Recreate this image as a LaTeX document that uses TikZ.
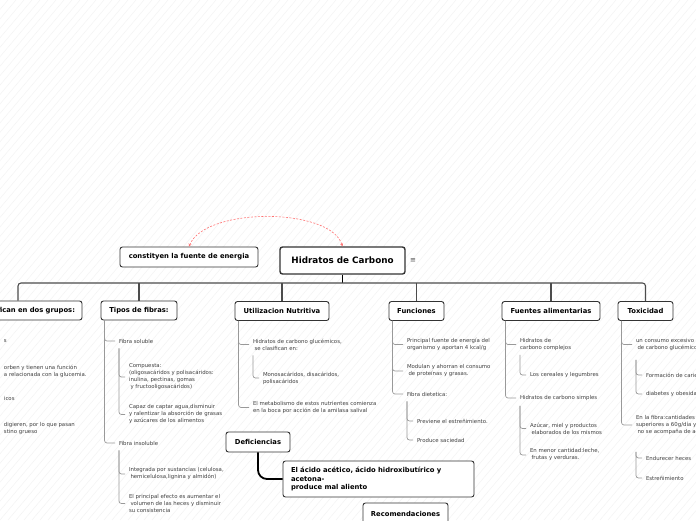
\documentclass[tikz,border=0pt]{standalone}
\usepackage{fontspec}
\setmainfont{DejaVu Sans}
\usetikzlibrary{arrows.meta}

\begin{document}
\begin{tikzpicture}[x=1pt, y=-1pt,
    topic/.style={draw=black!80, line width=0.9pt, rounded corners=2.5pt, fill=white, font=\bfseries\fontsize{6.8}{8}\selectfont, inner xsep=4pt, inner ysep=0pt, minimum height=19pt},
    leaf/.style={anchor=west, align=left, inner sep=0pt, outer xsep=4pt, font=\fontsize{5.4}{7}\selectfont, text=black!75},
    twig/.style={draw=black!40, line width=0.7pt, rounded corners=2.5pt},
    bar/.style={draw=black!70, line width=1.1pt, rounded corners=3pt},
    link/.style={draw=red!55, line width=0.6pt, dash pattern=on 2pt off 1.5pt, {Stealth[length=3pt,width=3pt]}-{Stealth[length=3pt,width=3pt]}},
    stripe/.style={draw=black!5, line width=0.4pt}]
    \useasboundingbox (0,0) rectangle (696,520);
    \fill[white] (0,0) rectangle (696,520);
    \begin{scope}
        \clip (0,0) rectangle (696,520);
        \foreach \i in {-440,-432,...,696}
            \draw[stripe] (\i,520) -- (\i+440,0);
    \end{scope}

    % centre
    \node[topic, line width=1.4pt, font=\bfseries\fontsize{8.8}{10}\selectfont, minimum width=125pt, minimum height=27pt] (hc) at (342.5,260.5) {Hidratos de Carbono};
    \node[font=\fontsize{7}{8}\selectfont, text=black!70] (menu) at (413,261) {≡};
    \node[topic, minimum width=138pt, minimum height=20pt] (fe) at (189,257) {constityen la fuente de energia};
    \draw[link] (fe.north) .. controls (205,207) and (330,207) .. (hc.north);

    % groups
    \node[topic, text width=114pt, align=right, inner xsep=7pt] (g1) at (18,310.5) {Se clasifican en dos grupos:\hspace*{4pt}};
    \node[topic, minimum width=76pt] (g2) at (139,310.5) {Tipos de fibras:};
    \node[topic, minimum width=94pt] (g3) at (282,311) {Utilizacion Nutritiva};
    \node[topic, minimum width=55pt] (g4) at (416.5,311) {Funciones};
    \node[topic, minimum width=98pt] (g5) at (551,311) {Fuentes alimentarias};
    \node[topic, minimum width=55pt] (g6) at (645.5,311) {Toxicidad};

    \coordinate (hub) at (342.5,283);
    \draw[bar, line width=1.5pt, draw=black] (hc.south) -- (hub);
    \draw[bar] (g1.north) |- (hub) -| (g6.north);
    \foreach \g in {g2,g3,g4,g5}
        \draw[bar] (\g.north) -- (\g.north |- hub);

    % grupos
    \node[leaf] (a1) at (0,341) {s};
    \node[leaf] (a2) at (0,371.5) {orben y tienen una función\\a relacionada con la glucemia.};
    \node[leaf] (a3) at (0,398) {icos};
    \node[leaf] (a4) at (0,428.5) {digieren, por lo que pasan\\stino grueso};

    % fibras
    \node[leaf] (b1) at (115,341) {Fibra soluble};
    \node[leaf] (b11) at (125,377) {Compuesta:\\(oligosacáridos y polisacáridos:\\inulina, pectinas, gomas\\\hspace*{1.5pt}y fructooligosacáridos)};
    \node[leaf] (b12) at (125,414.5) {Capaz de captar agua,disminuir\\y ralentizar la absorción de grasas\\y azúcares de los alimentos};
    \node[leaf] (b2) at (115,443) {Fibra insoluble};
    \node[leaf] (b21) at (125,474) {Integrada por sustancias (celulosa,\\\hspace*{1.5pt}hemicelulosa,lignina y almidón)};
    \node[leaf] (b22) at (125,503.5) {El principal efecto es aumentar el\\\hspace*{1.5pt}volumen de las heces y disminuir\\su consistencia};
    \foreach \n in {b1,b2}
        \draw[twig] ([xshift=4pt]g2.south west) |- (\n.west);
    \foreach \n in {b11,b12}
        \draw[twig] ([shift={(4pt,-5pt)}]b1.south west) |- (\n.west);
    \foreach \n in {b21,b22}
        \draw[twig] ([shift={(4pt,-5pt)}]b2.south west) |- (\n.west);

    % utilizacion
    \node[leaf] (c1) at (249,344.5) {Hidratos de carbono glucémicos,\\\hspace*{1.5pt}se clasifican en:};
    \node[leaf] (c11) at (259,378) {Monosacáridos, disacáridos,\\polisacáridos};
    \node[leaf] (c2) at (249,407.5) {El metabolismo de estos nutrientes comienza\\en la boca por acción de la amilasa salival};
    \foreach \n in {c1,c2}
        \draw[twig] ([xshift=4pt]g3.south west) |- (\n.west);
    \draw[twig] ([shift={(4pt,-5pt)}]c1.south west) |- (c11.west);

    % funciones
    \node[leaf] (d1) at (403,344.5) {Principal fuente de energía del\\organismo y aportan 4 kcal/g};
    \node[leaf] (d2) at (403,371) {Modulan y ahorran el consumo\\\hspace*{1.5pt}de proteínas y grasas.};
    \node[leaf] (d3) at (403,394) {Fibra dietetica:};
    \node[leaf] (d31) at (413,421) {Previene el estreñimiento.};
    \node[leaf] (d32) at (413,440) {Produce saciedad};
    \foreach \n in {d1,d2,d3}
        \draw[twig] ([xshift=4pt]g4.south west) |- (\n.west);
    \foreach \n in {d31,d32}
        \draw[twig] ([shift={(4pt,-5pt)}]d3.south west) |- (\n.west);

    % fuentes
    \node[leaf] (e1) at (516,344.5) {Hidratos de\\carbono complejos};
    \node[leaf] (e11) at (526,375) {Los cereales y legumbres};
    \node[leaf] (e2) at (516,398) {Hidratos de carbono simples};
    \node[leaf] (e21) at (526,428.5) {Azúcar, miel y productos\\\hspace*{1.5pt}elaborados de los mismos};
    \node[leaf] (e22) at (526,455) {En menor cantidad:leche,\\\hspace*{1.5pt}frutas y verduras.};
    \foreach \n in {e1,e2}
        \draw[twig] ([xshift=4pt]g5.south west) |- (\n.west);
    \draw[twig] ([shift={(4pt,-4pt)}]e1.south west) |- (e11.west);
    \foreach \n in {e21,e22}
        \draw[twig] ([shift={(4pt,-5pt)}]e2.south west) |- (\n.west);

    % toxicidad
    \node[leaf] (f1) at (632,344.5) {un consumo excesivo de hidratos\\\hspace*{1.5pt}de carbono glucémicos};
    \node[leaf] (f11) at (642,375) {Formación de caries};
    \node[leaf] (f12) at (642,394) {diabetes y obesidad};
    \node[leaf] (f2) at (632,425) {En la fibra:cantidades\\superiores a 60g/día y\\\hspace*{1.5pt}no se acompaña de agua};
    \node[leaf] (f21) at (642,458) {Endurecer heces};
    \node[leaf] (f22) at (642,478) {Estreñimiento};
    \foreach \n in {f1,f2}
        \draw[twig] ([xshift=4pt]g6.south west) |- (\n.west);
    \foreach \n in {f11,f12}
        \draw[twig] ([shift={(4pt,-9pt)}]f1.south west) |- (\n.west);
    \foreach \n in {f21,f22}
        \draw[twig] ([shift={(4pt,-17pt)}]f2.south west) |- (\n.west);

    % deficiencias
    \node[topic, minimum width=64pt, minimum height=20pt] (df) at (258,442) {Deficiencias};
    \node[topic, text width=175pt, align=left, inner xsep=8pt, minimum height=36pt, font=\bfseries\fontsize{6.8}{8.8}\selectfont] (ac) at (378.5,479) {El ácido acético, ácido hidroxibutírico y\\acetona-\\produce mal aliento};
    \draw[line width=1.8pt, rounded corners=9pt] (df.south) |- (ac.west);
    \node[topic, minimum width=85pt, minimum height=22pt] (rc) at (405.5,514) {Recomendaciones};
\end{tikzpicture}
\end{document}
